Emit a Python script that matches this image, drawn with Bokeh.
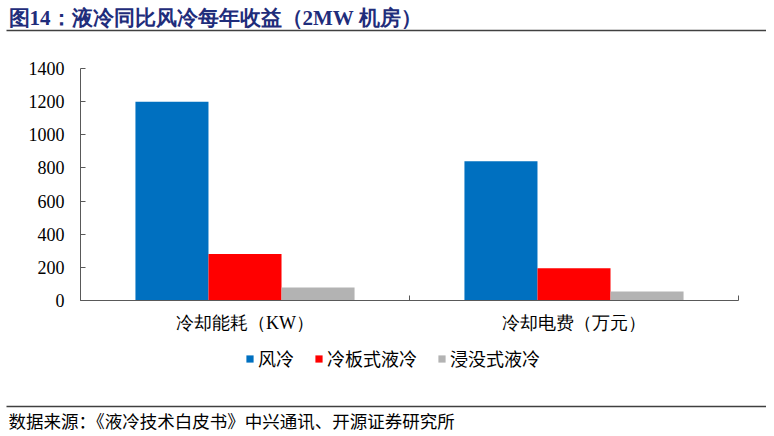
from bokeh.plotting import figure
from bokeh.layouts import column
from bokeh.models import (ColumnDataSource, Range1d, LinearAxis, FixedTicker,
                          SingleIntervalTicker, Label, BoxAnnotation)
from bokeh.transform import dodge
from bokeh.embed import file_html
from bokeh.resources import INLINE

# Dane
categories = ["冷却能耗（KW）", "冷却电费（万元）"]
series = ["风冷", "冷板式液冷", "浸没式液冷"]
air = [1200, 840]
cold_plate = [280, 195]
immersion = [78, 55]
colors = ["#0070C0", "#FF0000", "#B3B3B3"]

title_text = "图14：液冷同比风冷每年收益（2MW 机房）"
source_text = "数据来源：《液冷技术白皮书》中兴通讯、开源证券研究所"

W = 766


def blank(h):
    f = figure(width=W, height=h, x_range=Range1d(0, W), y_range=Range1d(0, h),
               output_backend="svg", toolbar_location=None,
               x_axis_location=None, y_axis_location=None,
               min_border=0, outline_line_color=None, frame_align=False)
    f.grid.grid_line_color = None
    return f


def rule(f, y):
    f.add_layout(BoxAnnotation(left=6, right=W, bottom=y - 0.75, top=y + 0.75,
                               left_units="screen", right_units="screen",
                               bottom_units="screen", top_units="screen",
                               fill_color="#404040", fill_alpha=1, line_color=None))


# naglowek z tytulem
head = blank(34)
head.add_layout(Label(x=8, y=17, x_units="screen", y_units="screen", text=title_text,
                      text_font="Liberation Serif", text_font_style="bold",
                      text_font_size="21px", text_color="#1F2D7B",
                      text_baseline="middle"))
rule(head, 4)

# wykres glowny
pos = [i + 0.5 for i in range(len(categories))]
source = ColumnDataSource(dict(pos=pos, air=air, plate=cold_plate, imm=immersion))
cols = ["air", "plate", "imm"]

p = figure(x_range=Range1d(0, len(categories)), y_range=Range1d(0, 1400),
           width=W, height=310, output_backend="svg", toolbar_location=None,
           x_axis_location=None, frame_align=False,
           min_border_left=80, min_border_right=28, min_border_top=34, min_border_bottom=44)
p.outline_line_color = None
p.grid.grid_line_color = None

w = 0.222
for col, off, c in zip(cols, [-w, 0, w], colors):
    p.vbar(x=dodge("pos", off), top=col, width=w, source=source,
           fill_color=c, line_color=None)

p.yaxis.ticker = SingleIntervalTicker(interval=200)
p.yaxis.major_tick_in = 5
p.yaxis.major_tick_out = 0
p.yaxis.minor_tick_line_color = None
p.yaxis.axis_line_color = "#595959"
p.yaxis.major_tick_line_color = "#595959"
p.yaxis.major_label_text_font = "Liberation Serif"
p.yaxis.major_label_text_font_size = "18px"
p.yaxis.major_label_text_color = "black"
p.yaxis.major_label_standoff = 12

# os X: kreski na granicach kategorii + podpisy kategorii
edges = list(range(len(categories) + 1))
edge = LinearAxis(ticker=FixedTicker(ticks=edges),
                  major_tick_in=5, major_tick_out=0, minor_tick_line_color=None,
                  major_label_overrides={e: "" for e in edges}, major_label_standoff=0,
                  axis_line_color="#595959", major_tick_line_color="#595959")
p.add_layout(edge, "below")
cat_axis = LinearAxis(ticker=FixedTicker(ticks=pos),
                      major_label_overrides=dict(zip(pos, categories)),
                      axis_line_color=None, major_tick_line_color=None,
                      minor_tick_line_color=None, major_label_standoff=6,
                      major_label_text_font="Liberation Serif",
                      major_label_text_font_size="18px",
                      major_label_text_color="black")
p.add_layout(cat_axis, "below")

# stopka: legenda (ukryte kopie serii), linia i zrodlo
foot = blank(90)
for col, name, c in zip(cols, series, colors):
    foot.vbar(x="pos", top=col, width=w, source=source, fill_color=c,
              line_color=None, legend_label=name, visible=False)
leg = foot.legend[0]
leg.location = (245, 63)
leg.orientation = "horizontal"
leg.glyph_width = 9
leg.glyph_height = 9
leg.label_height = 18
leg.label_standoff = 4
leg.spacing = 20
leg.padding = 0
leg.margin = 0
leg.border_line_color = None
leg.background_fill_alpha = 0
leg.label_text_font = "Noto Sans CJK SC"
leg.label_text_font_size = "18px"
leg.label_text_color = "black"
rule(foot, 28)
foot.add_layout(Label(x=8, y=14, x_units="screen", y_units="screen", text=source_text,
                      text_font="Noto Sans CJK SC", text_font_size="17.5px",
                      text_color="black", text_baseline="middle"))

open("out.html", "w").write(file_html(column(head, p, foot), INLINE))
